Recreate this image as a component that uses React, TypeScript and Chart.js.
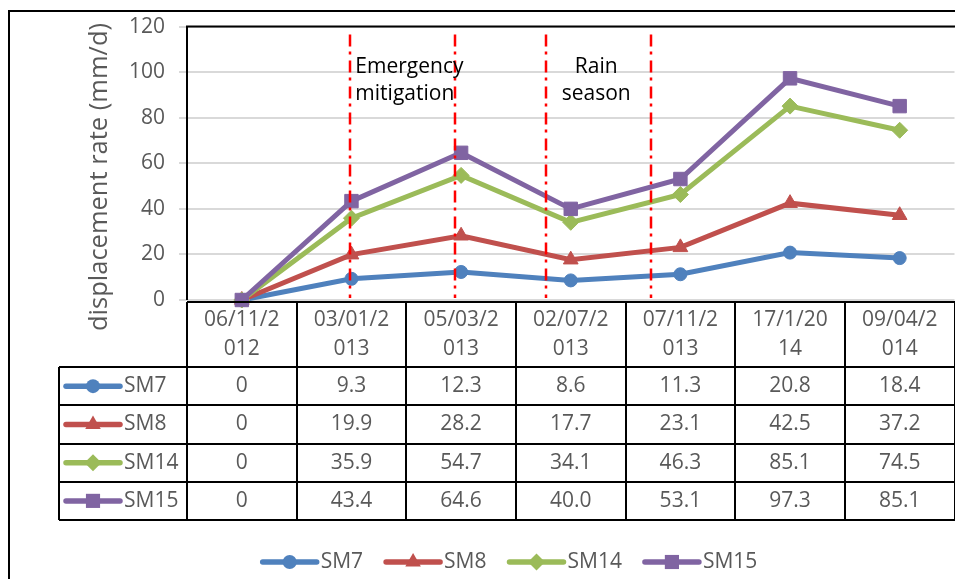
import React, { useEffect, useRef } from 'react';
import { Chart, registerables } from 'chart.js';

Chart.register(...registerables);

// ---------- data ----------
const categories: string[][] = [
  ['06/11/2', '012'],
  ['03/01/2', '013'],
  ['05/03/2', '013'],
  ['02/07/2', '013'],
  ['07/11/2', '013'],
  ['17/1/20', '14'],
  ['09/04/2', '014'],
];
const categoryKeys = ['06/11/2012', '03/01/2013', '05/03/2013', '02/07/2013', '07/11/2013', '17/1/2014', '09/04/2014'];
const seriesNames = ['SM7', 'SM8', 'SM14', 'SM15'];
const sm7 = [0, 9.3, 12.3, 8.6, 11.3, 20.8, 18.4];
const sm8 = [0, 19.9, 28.2, 17.7, 23.1, 42.5, 37.2];
const sm14 = [0, 35.9, 54.7, 34.1, 46.3, 85.1, 74.5];
const sm15 = [0, 43.4, 64.6, 40.0, 53.1, 97.3, 85.1];
const seriesValues = [sm7, sm8, sm14, sm15];
const yTicks = [0, 20, 40, 60, 80, 100, 120];
const yTitle = 'displacement rate (mm/d)';
// event lines, as positions in category-index units
const eventLines = [0.99, 1.94, 2.77, 3.73];
const annotationEmergency = ['Emergency', 'mitigation'];
const annotationRain = ['Rain', 'season'];

// ---------- styles ----------
const FONT = '"Open Sans", "Noto Sans", sans-serif';
const GRAY = '#595959';
const colors = ['#4f81bd', '#c0504d', '#9bbb59', '#8064a2'];
const pointStyles = ['circle', 'triangle', 'rectRot', 'rect'];
const pointRadii = [6.5, 8.5, 8, 9.5];

const fmt = (v: number) => (v === 0 ? '0' : v.toFixed(1));

function drawMarker(ctx: CanvasRenderingContext2D, style: string, x: number, y: number, r: number, color: string) {
  ctx.save();
  ctx.fillStyle = color;
  ctx.beginPath();
  if (style === 'circle') {
    ctx.arc(x, y, r, 0, Math.PI * 2);
  } else if (style === 'triangle') {
    for (let k = 0; k < 3; k++) {
      const a = -Math.PI / 2 + (k * 2 * Math.PI) / 3;
      const px = x + Math.cos(a) * r;
      const py = y + Math.sin(a) * r;
      if (k === 0) ctx.moveTo(px, py);
      else ctx.lineTo(px, py);
    }
    ctx.closePath();
  } else if (style === 'rectRot') {
    ctx.moveTo(x, y - r);
    ctx.lineTo(x + r, y);
    ctx.lineTo(x, y + r);
    ctx.lineTo(x - r, y);
    ctx.closePath();
  } else {
    const s = r * Math.SQRT1_2;
    ctx.rect(x - s, y - s, 2 * s, 2 * s);
  }
  ctx.fill();
  ctx.restore();
}

function drawIcon(ctx: CanvasRenderingContext2D, i: number, x0: number, x1: number, y: number) {
  ctx.save();
  ctx.strokeStyle = colors[i];
  ctx.lineWidth = 5.5;
  ctx.lineCap = 'round';
  ctx.beginPath();
  ctx.moveTo(x0, y);
  ctx.lineTo(x1, y);
  ctx.stroke();
  ctx.restore();
  drawMarker(ctx, pointStyles[i], (x0 + x1) / 2, y, pointRadii[i] + 0.5, colors[i]);
}

const overlayPlugin = {
  id: 'overlay',
  beforeDraw(chart: any) {
    const ctx = chart.ctx as CanvasRenderingContext2D;
    ctx.save();
    ctx.fillStyle = '#ffffff';
    ctx.fillRect(0, 0, chart.width, chart.height);
    ctx.strokeStyle = '#000';
    ctx.lineWidth = 2;
    ctx.strokeRect(9, 11, chart.width + 40, chart.height + 40);
    ctx.restore();
  },
  afterDatasetsDraw(chart: any) {
    const ctx = chart.ctx as CanvasRenderingContext2D;
    const x = chart.scales.x;
    const area = chart.chartArea;
    const p0 = x.getPixelForValue(0);
    const w = x.getPixelForValue(1) - p0;
    const px = (idx: number) => p0 + idx * w;
    ctx.save();
    ctx.strokeStyle = '#ff0000';
    ctx.lineWidth = 2.5;
    ctx.setLineDash([12, 5, 3, 6]);
    for (const e of eventLines) {
      const xx = Math.round(px(e));
      ctx.beginPath();
      ctx.moveTo(xx, area.top + 8);
      ctx.lineTo(xx, area.bottom - 2);
      ctx.stroke();
    }
    ctx.setLineDash([]);
    ctx.fillStyle = '#000';
    ctx.font = `21px ${FONT}`;
    ctx.textBaseline = 'alphabetic';
    ctx.textAlign = 'left';
    const ex = px(eventLines[0]) + 5;
    ctx.fillText(annotationEmergency[0], ex, 73);
    ctx.fillText(annotationEmergency[1], ex, 100);
    ctx.textAlign = 'center';
    const rx = (px(eventLines[2]) + px(eventLines[3])) / 2 - 2;
    ctx.fillText(annotationRain[0], rx, 73);
    ctx.fillText(annotationRain[1], rx, 100);
    ctx.restore();
  },
  afterDraw(chart: any) {
    const ctx = chart.ctx as CanvasRenderingContext2D;
    const x = chart.scales.x;
    const area = chart.chartArea;
    const n = categories.length;
    const L = area.left;
    const w = (area.right - area.left) / n;
    const R = area.right;
    ctx.save();
    // plot border (top + left)
    ctx.strokeStyle = '#000';
    ctx.lineWidth = 2;
    ctx.beginPath();
    ctx.moveTo(L, area.bottom);
    ctx.lineTo(L, area.top);
    ctx.lineTo(R + 20, area.top);
    ctx.stroke();

    // y title
    ctx.save();
    ctx.translate(100, 177);
    ctx.rotate(-Math.PI / 2);
    ctx.fillStyle = GRAY;
    ctx.font = `25.5px ${FONT}`;
    ctx.textAlign = 'center';
    ctx.textBaseline = 'middle';
    ctx.fillText(yTitle, 0, 0);
    ctx.restore();

    // data table
    const headerTop = area.bottom + 2;
    const headerBottom = 367;
    const rowH = 38.25;
    const labelLeft = 59;
    const bottom = headerBottom + rowH * seriesNames.length;
    ctx.beginPath();
    ctx.moveTo(L, headerTop);
    ctx.lineTo(R + 20, headerTop);
    for (let r = 0; r <= seriesNames.length; r++) {
      const yy = Math.round(headerBottom + r * rowH);
      ctx.moveTo(labelLeft, yy);
      ctx.lineTo(R + 20, yy);
    }
    for (let i = 0; i <= n; i++) {
      const xx = Math.round(L + i * w);
      ctx.moveTo(xx, headerTop);
      ctx.lineTo(xx, bottom);
    }
    ctx.moveTo(labelLeft, headerBottom);
    ctx.lineTo(labelLeft, bottom);
    ctx.stroke();

    ctx.fillStyle = GRAY;
    ctx.font = `21px ${FONT}`;
    ctx.textAlign = 'center';
    ctx.textBaseline = 'middle';
    for (let i = 0; i < n; i++) {
      const cx = x.getPixelForValue(i);
      ctx.fillText(categories[i][0], cx, 320);
      ctx.fillText(categories[i][1], cx, 349);
    }
    for (let s = 0; s < seriesNames.length; s++) {
      const cy = headerBottom + (s + 0.5) * rowH;
      for (let i = 0; i < n; i++) {
        ctx.fillText(fmt(seriesValues[s][i]), x.getPixelForValue(i), cy);
      }
    }
    ctx.textAlign = 'left';
    for (let s = 0; s < seriesNames.length; s++) {
      const cy = headerBottom + (s + 0.5) * rowH;
      drawIcon(ctx, s, 66, 120, cy);
      ctx.fillStyle = GRAY;
      ctx.fillText(seriesNames[s], 124, cy);
    }

    // legend
    const iconW = 54;
    const gapIT = 4;
    const gapItems = 23;
    const widths = seriesNames.map((s) => ctx.measureText(s).width);
    const total = widths.reduce((a, b) => a + b + iconW + gapIT, 0) + gapItems * (seriesNames.length - 1);
    let lx = 510 - total / 2;
    const ly = 562;
    for (let s = 0; s < seriesNames.length; s++) {
      drawIcon(ctx, s, lx, lx + iconW, ly);
      ctx.fillStyle = GRAY;
      ctx.fillText(seriesNames[s], lx + iconW + gapIT, ly);
      lx += iconW + gapIT + widths[s] + gapItems;
    }
    ctx.restore();
  },
};

export default function App() {
  const ref = useRef<HTMLCanvasElement | null>(null);
  useEffect(() => {
    if (!ref.current) return;
    const chart = new Chart(ref.current, {
      type: 'line',
      data: {
        labels: categoryKeys,
        datasets: seriesNames.map((name, i) => ({
          label: name,
          data: seriesValues[i],
          borderColor: colors[i],
          backgroundColor: colors[i],
          borderWidth: 5,
          pointStyle: pointStyles[i] as any,
          pointRadius: pointRadii[i],
          pointBorderWidth: 1,
          pointBorderColor: colors[i],
          pointBackgroundColor: colors[i],
          tension: 0,
          clip: false as any,
          order: seriesNames.length - i,
        })),
      },
      options: {
        animation: false,
        responsive: false,
        devicePixelRatio: 1,
        layout: { padding: { left: 9, top: 25, right: 6, bottom: 290 } },
        plugins: { legend: { display: false }, tooltip: { enabled: false } },
        scales: {
          x: {
            type: 'category',
            display: false,
            offset: true,
          },
          y: {
            min: 0,
            max: 120,
            afterFit: (scale: any) => {
              scale.width = 178;
            },
            afterBuildTicks: (scale: any) => {
              scale.ticks = yTicks.map((v) => ({ value: v }));
            },
            border: { display: false },
            grid: { color: '#d9d9d9', lineWidth: 2, tickLength: 8, drawTicks: true },
            ticks: {
              color: GRAY,
              padding: 14,
              font: { family: FONT, size: 21 },
            },
          },
        },
      },
      plugins: [overlayPlugin],
    });
    return () => chart.destroy();
  }, []);
  return (
    <div style={{ position: 'absolute', left: 0, top: 0, width: 955, height: 579, overflow: 'hidden', background: '#fff' }}>
      <canvas ref={ref} width={965} height={590} style={{ display: 'block', width: 965, height: 590 }} />
    </div>
  );
}
